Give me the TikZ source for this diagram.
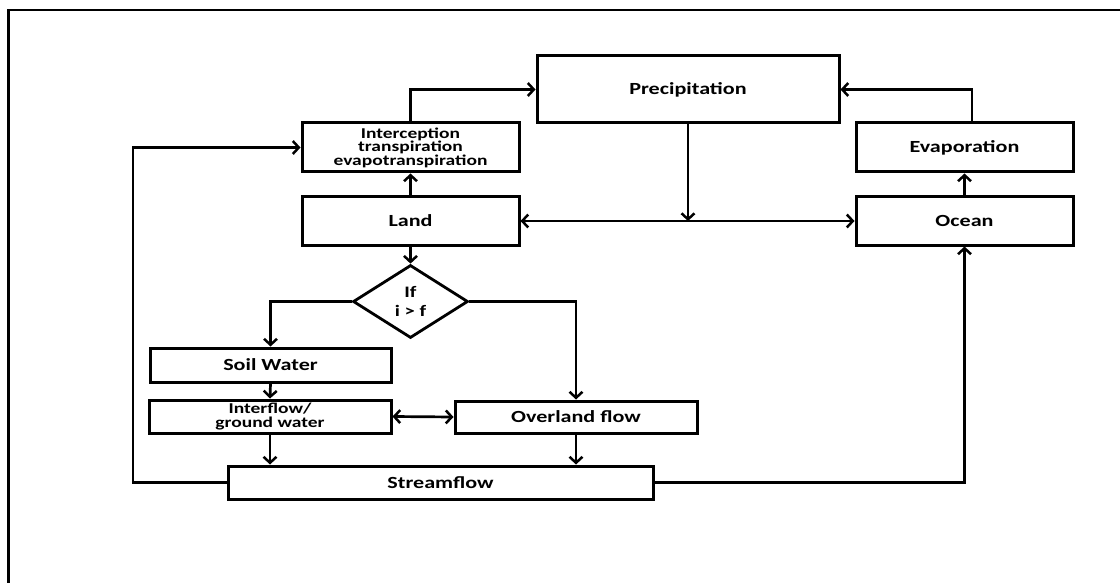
\documentclass[tikz,border=0pt]{standalone}
\usepackage{fontspec}
\setmainfont[FakeStretch=1.3]{Carlito}
\usetikzlibrary{arrows.meta,shapes.geometric}
\begin{document}
\begin{tikzpicture}[x=1pt,y=-1pt,
  box/.style={draw,line width=3pt,rectangle,inner sep=0pt,align=center,
    font=\fontsize{17}{19}\selectfont\bfseries},
  smallbox/.style={box,font=\fontsize{15}{13.5}\selectfont\bfseries},
  tip/.style={},
  arr/.style={line width=2.7pt,-{Straight Barb[length=6pt,width=13pt,line width=2.5pt]}},
  arrb/.style={line width=2.7pt,{Straight Barb[length=6pt,width=13pt,line width=2.5pt]}-{Straight Barb[length=6pt,width=13pt,line width=2.5pt]}}]
\useasboundingbox (0,0) rectangle (1120,583);
% frame (only top and left visible)
\draw[line width=2.2pt] (8.5,583) -- (8.5,10) -- (1120,10);

\node[box,minimum width=302pt,minimum height=67pt] (prec) at (688,89.5) {Precipitation};
\node[smallbox,minimum width=217pt,minimum height=49pt] (inter) at (410.5,147.5) {Interception\\transpiration\\evapotranspiration};
\node[box,minimum width=217pt,minimum height=48pt] (land) at (410.5,221) {Land};
\node[box,minimum width=217pt,minimum height=49pt] (evap) at (964.5,147.5) {Evaporation};
\node[box,minimum width=217pt,minimum height=48pt] (ocean) at (964.5,221) {Ocean};
\node[draw,line width=2.8pt,diamond,aspect=1.575,minimum width=115pt,minimum height=73pt,inner sep=0pt,align=center,
  font=\fontsize{16}{19}\selectfont\bfseries] (dia) at (410.5,301.5) {If\\i > f};
\node[box,minimum width=241pt,minimum height=34pt] (soil) at (270.5,365) {Soil Water};
\node[smallbox,minimum width=242pt,minimum height=33pt] (interf) at (270,416.5) {Interflow/\\ground water};
\node[box,minimum width=242pt,minimum height=32pt] (over) at (576,417) {Overland flow};
\node[box,minimum width=425pt,minimum height=33pt] (stream) at (440.5,482.5) {Streamflow};

\coordinate (jn) at (688,221);
\coordinate (lp) at (133,482.5);

\draw[arr] (inter.north) |- (prec.west);
\draw[arr] (land.north) -- (inter.south);
\draw[arr] (prec.south) -- (jn);
\draw[arrb] (land.east) -- (ocean.west);
\draw[arr] (ocean.north) -- (evap.south);
\draw[arr] ([xshift=7.5pt]evap.north) |- (prec.east);
\draw[arr] (land.south) -- (dia.north);
\draw[arr] (dia.west) -| (soil.north);
\draw[arr] (dia.east) -| (over.north);
\draw[arr] (soil.south) -- (interf.north);
\draw[arrb] (interf.east) -- (over.west);
\draw[arr] (interf.south) -- (interf.south |- stream.north);
\draw[arr] (over.south) -- (over.south |- stream.north);
\draw[arr] (stream.west) -- (lp) |- (inter.west);
\draw[arr] (stream.east) -| (ocean.south);
\end{tikzpicture}
\end{document}
